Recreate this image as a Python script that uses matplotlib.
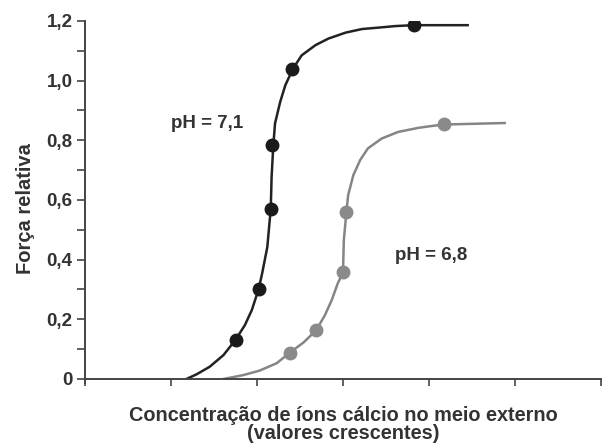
import numpy as np
import matplotlib as mpl
mpl.use('Agg')
import matplotlib.pyplot as plt
from matplotlib.ticker import MultipleLocator

# curve, pH = 7,1
x71 = [1.18, 1.30, 1.45, 1.61, 1.75, 1.86, 1.94, 2.02, 2.06, 2.12, 2.16, 2.17, 2.19,
       2.21, 2.27, 2.33, 2.42, 2.52, 2.68, 2.83, 3.03, 3.22, 3.42, 3.61, 3.82, 4.45]
y71 = [0.0, 0.016, 0.041, 0.080, 0.131, 0.181, 0.231, 0.302, 0.354, 0.442, 0.570, 0.677, 0.784,
       0.857, 0.929, 0.985, 1.041, 1.085, 1.119, 1.141, 1.161, 1.173, 1.178, 1.183, 1.186, 1.186]
# measured points, pH = 7,1
px71 = [1.76, 2.02, 2.16, 2.18, 2.41, 3.83]
py71 = [0.131, 0.302, 0.570, 0.784, 1.040, 1.187]

# curve, pH = 6,8
x68 = [1.61, 1.84, 2.03, 2.23, 2.38, 2.54, 2.69, 2.79, 2.87, 2.94, 3.00, 3.01, 3.04,
       3.06, 3.12, 3.20, 3.29, 3.45, 3.64, 3.88, 4.03, 4.18, 4.88]
y68 = [0.0, 0.013, 0.028, 0.053, 0.088, 0.122, 0.164, 0.214, 0.265, 0.321, 0.356, 0.466, 0.560,
       0.616, 0.683, 0.734, 0.773, 0.806, 0.828, 0.842, 0.848, 0.853, 0.858]
px68 = [2.38, 2.69, 3.00, 3.03, 4.18]
py68 = [0.087, 0.164, 0.358, 0.559, 0.854]

yticks = [0, 0.2, 0.4, 0.6, 0.8, 1.0, 1.2]
ylabels = ['0', '0,2', '0,4', '0,6', '0,8', '1,0', '1,2']

plt.rcParams['font.family'] = ['Liberation Sans', 'DejaVu Sans']
plt.rcParams['font.weight'] = 'bold'

fig = plt.figure(figsize=(6.04, 4.43), dpi=100)
ax = fig.add_axes([0.1407, 0.1445, 0.8543, 0.8081])

ax.plot(x71, y71, color='#222222', linewidth=1.8, solid_joinstyle='round')
ax.plot(px71, py71, 'o', color='#1a1a1a', markersize=9)
ax.plot(x68, y68, color='#858585', linewidth=1.8, solid_joinstyle='round')
ax.plot(px68, py68, 'o', color='#8a8a8a', markersize=9)

ax.text(1.42, 0.858, 'pH = 7,1', fontsize=13.5, fontweight='bold', color='#333333',
        ha='center', va='center')
ax.text(4.03, 0.415, 'pH = 6,8', fontsize=13.5, fontweight='bold', color='#333333',
        ha='center', va='center')

ax.set_xlim(0, 6)
ax.set_ylim(0, 1.2)
ax.set_xticks([0, 1, 2, 3, 4, 5, 6])
ax.set_xticklabels([])
ax.set_yticks(yticks)
ax.set_yticklabels(ylabels)
ax.yaxis.set_minor_locator(MultipleLocator(0.1))

for s in ['top', 'right']:
    ax.spines[s].set_visible(False)
for s in ['left', 'bottom']:
    ax.spines[s].set_color('#444444')
    ax.spines[s].set_linewidth(1.4)
ax.spines['left'].set_bounds(-0.012, 1.2)

ax.tick_params(axis='y', which='both', direction='out', length=6, width=1.2,
               color='#444444', labelsize=13.5, labelcolor='#333333', pad=3)
ax.tick_params(axis='x', direction='out', length=5, width=1.2, color='#444444')

ax.set_ylabel('Força relativa', fontsize=14.5, fontweight='bold', color='#333333')
ax.yaxis.set_label_coords(-0.097, 0.475)
ax.set_xlabel('Concentração de íons cálcio no meio externo\n(valores crescentes)',
              fontsize=14.3, fontweight='bold', color='#333333', labelpad=11, linespacing=0.95)
ax.patch.set_visible(False)

fig.savefig('out.png', dpi=100)
